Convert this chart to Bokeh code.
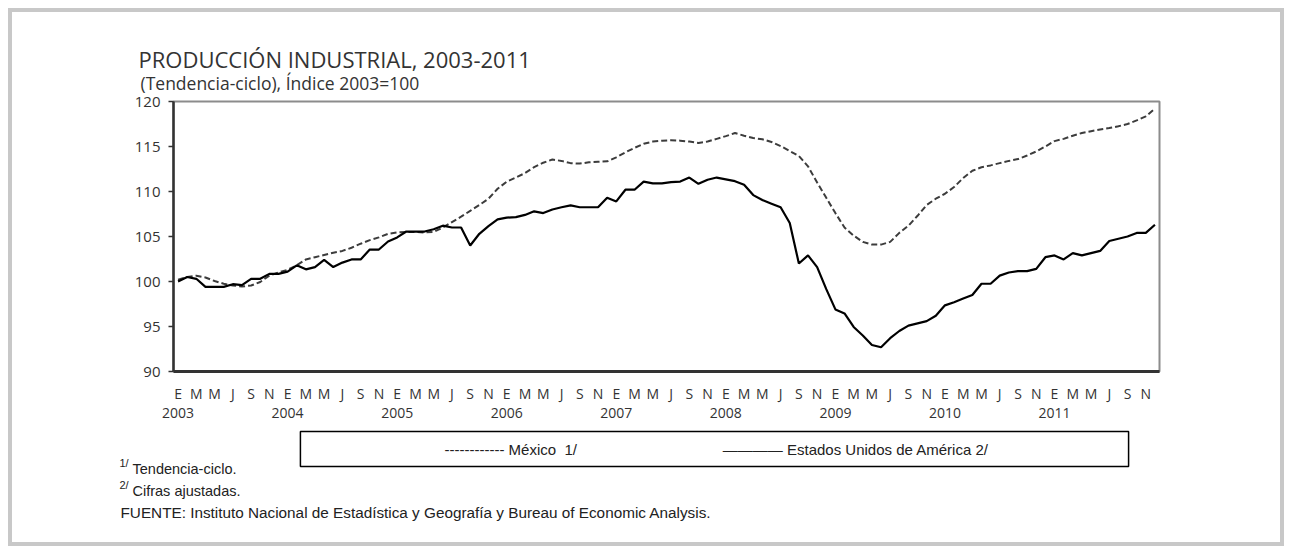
from bokeh.plotting import figure
from bokeh.layouts import column
from bokeh.models import FixedTicker, LinearAxis, Label, Range1d
from bokeh.embed import file_html
from bokeh.resources import INLINE

# ---------------- data ----------------
months = list(range(108))  # Jan 2003 .. Dec 2011

mexico = [
    100.2, 100.5, 100.65, 100.45, 100.05, 99.75, 99.55, 99.45, 99.55, 99.95, 100.65, 101.0,
    101.3, 101.8, 102.45, 102.7, 102.95, 103.2, 103.4, 103.75, 104.2, 104.6, 104.9, 105.3,
    105.45, 105.5, 105.5, 105.45, 105.5, 106.0, 106.6, 107.2, 107.85, 108.5, 109.2, 110.3,
    111.1, 111.55, 112.05, 112.7, 113.2, 113.55, 113.4, 113.15, 113.1, 113.25, 113.3, 113.35,
    113.8, 114.35, 114.85, 115.3, 115.55, 115.65, 115.7, 115.65, 115.55, 115.4, 115.55, 115.85,
    116.15, 116.5, 116.2, 115.95, 115.8, 115.5, 115.05, 114.5, 113.95, 112.8, 111.0, 109.3,
    107.6, 106.0, 105.1, 104.4, 104.1, 104.1, 104.4, 105.4, 106.2, 107.3, 108.5, 109.2,
    109.75, 110.5, 111.5, 112.3, 112.7, 112.9, 113.15, 113.4, 113.6, 114.0, 114.45, 115.0,
    115.6, 115.85, 116.2, 116.5, 116.7, 116.9, 117.05, 117.25, 117.5, 117.9, 118.35, 119.2,
]

usa = [
    100.0, 100.5, 100.3, 99.4, 99.4, 99.4, 99.7, 99.6, 100.3, 100.3, 100.85, 100.85,
    101.1, 101.8, 101.35, 101.6, 102.4, 101.6, 102.1, 102.45, 102.45, 103.55, 103.55, 104.45,
    104.9, 105.55, 105.55, 105.55, 105.8, 106.2, 106.0, 106.0, 104.0, 105.3, 106.15, 106.9,
    107.1, 107.15, 107.4, 107.8, 107.6, 108.0, 108.25, 108.45, 108.25, 108.25, 108.25, 109.3,
    108.9, 110.2, 110.2, 111.1, 110.9, 110.9, 111.05, 111.1, 111.55, 110.85, 111.3, 111.55,
    111.35, 111.15, 110.75, 109.6, 109.05, 108.65, 108.25, 106.5, 102.0, 102.9, 101.6, 99.15,
    96.9, 96.45, 94.95, 94.0, 92.95, 92.7, 93.7, 94.5, 95.1, 95.35, 95.6, 96.2,
    97.35, 97.7, 98.1, 98.5, 99.75, 99.75, 100.65, 101.0, 101.15, 101.15, 101.4, 102.7,
    102.9, 102.45, 103.15, 102.9, 103.15, 103.4, 104.5, 104.75, 105.0, 105.4, 105.4, 106.3,
]

month_letters = ["E", "F", "M", "A", "M", "J", "J", "A", "S", "O", "N", "D"]
years = ["2003", "2004", "2005", "2006", "2007", "2008", "2009", "2010", "2011"]
y_ticks = [90, 95, 100, 105, 110, 115, 120]

title_text = "PRODUCCIÓN INDUSTRIAL, 2003-2011"
subtitle_text = "(Tendencia-ciclo), Índice 2003=100"
note1_text = "Tendencia-ciclo."
note2_text = "Cifras ajustadas."
source_text = "FUENTE: Instituto Nacional de Estadística y Geografía y Bureau of Economic Analysis."
label_mx = "México\u00a0\u00a01/"
label_us = "Estados Unidos de América 2/"

# ---------------- figure ----------------
W, H = 1268, 530          # inside a 4px grey frame placed 8px from the page edge
TXT = "#333333"
FONT = "Open Sans"
NFONT = "Liberation Sans"

p = figure(width=W, height=H, output_backend="svg", toolbar_location=None,
           x_range=Range1d(-0.5, 107.5), y_range=Range1d(90, 120),
           x_axis_location=None, y_axis_location=None,
           min_border_left=161, min_border_right=121,
           min_border_top=89, min_border_bottom=171)
p.grid.visible = False
p.outline_line_color = "#8c8c8c"
p.outline_line_width = 2
p.background_fill_color = "white"
p.border_fill_color = "white"

yax = LinearAxis(ticker=FixedTicker(ticks=y_ticks),
                 axis_line_color="#333333", axis_line_width=2.5,
                 major_tick_in=0, major_tick_out=5, major_tick_line_color="#333333",
                 major_tick_line_width=1.5, minor_tick_line_color=None,
                 major_label_text_font=FONT, major_label_text_font_size="15px",
                 major_label_text_color=TXT, major_label_standoff=8)
p.add_layout(yax, "left")

mticks = list(range(0, 108, 2))
xax = LinearAxis(ticker=FixedTicker(ticks=mticks),
                 major_label_overrides={m: month_letters[m % 12] for m in mticks},
                 axis_line_color="#333333", axis_line_width=3,
                 major_tick_in=0, major_tick_out=0, major_tick_line_color=None,
                 minor_tick_line_color=None,
                 major_label_text_font=FONT, major_label_text_font_size="14px",
                 major_label_text_color=TXT, major_label_standoff=12)
p.add_layout(xax, "below")

yticks = list(range(0, 108, 12))
yrax = LinearAxis(ticker=FixedTicker(ticks=yticks),
                  major_label_overrides={t: years[i] for i, t in enumerate(yticks)},
                  axis_line_color=None, major_tick_line_color=None,
                  minor_tick_line_color=None,
                  major_label_text_font=FONT, major_label_text_font_size="14px",
                  major_label_text_color=TXT, major_label_standoff=-4)
p.add_layout(yrax, "below")

p.line(months, mexico, line_color="#3c3c3c", line_width=2, line_dash="6 3")
p.line(months, usa, line_color="black", line_width=2.2)

def lab(side, x, y, text, font, size, baseline="alphabetic", color=TXT, **kw):
    p.add_layout(Label(x=x, y=y, x_units="canvas", y_units="canvas",
                       text=text, text_font=font, text_font_size=size,
                       text_color=color, text_baseline=baseline, **kw), side)

# titles
lab("above", 126, 46, title_text, FONT, "22px")
lab("above", 128, 70, subtitle_text, FONT, "17.5px")

# legend (box + entries)
lab("below", 702, 436.5, "\u00a0", NFONT, "15px", "middle", text_align="center",
    padding=(412, 9), border_line_color="black", border_line_width=1.5)
legend_text = ("-" * 12 + "\u00a0" + label_mx + "\u00a0" * 35
               + "\u2014" * 4 + "\u00a0" + label_us)
lab("below", 432, 436.5, legend_text, NFONT, "15px", "middle", color="#222222")

# footnotes
lab("left", 107, 450, "1/", NFONT, "11px", "middle", color="#222222")
lab("left", 107, 472, "2/", NFONT, "11px", "middle", color="#222222")
lab("below", 120, 456, note1_text, NFONT, "14.5px", "middle", color="#222222")
lab("below", 120, 478, note2_text, NFONT, "14.5px", "middle", color="#222222")
lab("below", 108, 500, source_text, NFONT, "15.3px", "middle", color="#222222")

root = column(p, styles={"border": "4px solid #c8c8c8", "margin": "8px"})

open("out.html", "w").write(file_html(root, INLINE))
